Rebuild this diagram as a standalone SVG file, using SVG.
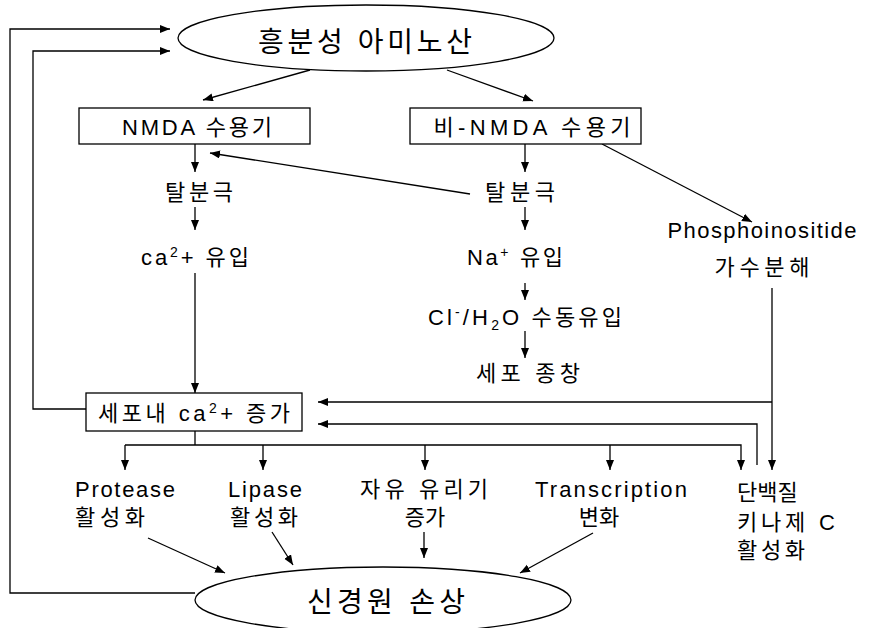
<svg xmlns="http://www.w3.org/2000/svg" width="870" height="628" viewBox="0 0 870 628">
<defs>
<marker id="ah" markerUnits="userSpaceOnUse" markerWidth="11" markerHeight="9" refX="10" refY="4" orient="auto">
<path d="M0,0 L10,4 L0,8 Z" fill="#000"/>
</marker>
<style>
text{font-family:"Liberation Sans","Noto Sans CJK KR",sans-serif;font-size:22px;fill:#000}
.c{text-anchor:middle}
.big{font-size:28px}
.bx{font-size:22px}
.node{fill:#fff;stroke:#000;stroke-width:1.3}
.conn path,.conn line,.conn polyline{fill:none;stroke:#000;stroke-width:1.3}
.arr{marker-end:url(#ah)}
</style>
</defs>
<rect width="870" height="628" fill="#fff"/>

<g class="conn">
<polyline class="arr" points="195,593 10,593 10,29 170,29"/>
<polyline class="arr" points="86,409 33,409 33,51 170,51"/>
<line class="arr" x1="310" y1="70" x2="203" y2="100"/>
<line class="arr" x1="447" y1="70" x2="533" y2="101"/>
<line class="arr" x1="195" y1="144" x2="195" y2="172"/>
<line class="arr" x1="470" y1="194" x2="210" y2="153"/>
<line class="arr" x1="525" y1="143" x2="525" y2="172"/>
<line class="arr" x1="602" y1="144" x2="752" y2="222"/>
<line class="arr" x1="195" y1="207" x2="195" y2="230"/>
<line class="arr" x1="195" y1="273" x2="195" y2="393"/>
<line class="arr" x1="525" y1="207" x2="525" y2="230"/>
<line class="arr" x1="525" y1="283" x2="525" y2="300"/>
<line class="arr" x1="525" y1="331" x2="525" y2="358"/>
<line class="arr" x1="772" y1="288" x2="772" y2="470"/>
<line class="arr" x1="772" y1="402" x2="318" y2="402"/>
<polyline class="arr" points="757,465 757,424 318,424"/>
<line x1="195" y1="431" x2="195" y2="445"/>
<polyline class="arr" points="125,445 741,445 741,470"/>
<line class="arr" x1="125" y1="445" x2="125" y2="470"/>
<line class="arr" x1="263" y1="445" x2="263" y2="470"/>
<line class="arr" x1="425" y1="445" x2="425" y2="470"/>
<line class="arr" x1="610" y1="445" x2="610" y2="470"/>
<line class="arr" x1="148" y1="538" x2="225" y2="573"/>
<line class="arr" x1="272" y1="532" x2="293" y2="565"/>
<line class="arr" x1="424" y1="532" x2="424" y2="558"/>
<line class="arr" x1="593" y1="533" x2="520" y2="573"/>
</g>

<g id="n_excit">
<ellipse class="node" cx="366" cy="38" rx="188" ry="33"/>
<text class="c big" x="365" y="52" textLength="214" lengthAdjust="spacing">흥분성 아미노산</text>
</g>
<g id="n_nmda">
<rect class="node" x="79" y="108" width="231" height="36"/>
<text class="c bx" x="197" y="135" textLength="150" lengthAdjust="spacing">NMDA 수용기</text>
</g>
<g id="n_nonnmda">
<rect class="node" x="410" y="108" width="231" height="36"/>
<text class="c bx" x="532" y="135" textLength="197" lengthAdjust="spacing">비-NMDA 수용기</text>
</g>
<g id="n_depol1">
<text class="c" x="199" y="200" textLength="68" lengthAdjust="spacing">탈분극</text>
</g>
<g id="n_depol2">
<text class="c" x="520" y="200" textLength="70" lengthAdjust="spacing">탈분극</text>
</g>
<g id="n_ca_influx">
<text x="141" y="265" textLength="108" lengthAdjust="spacing">ca<tspan font-size="14" dy="-8">2</tspan><tspan dy="8">+ 유입</tspan></text>
</g>
<g id="n_na_influx">
<text x="467" y="265" textLength="96" lengthAdjust="spacing">Na<tspan font-size="14" dy="-8">+</tspan><tspan dy="8"> 유입</tspan></text>
</g>
<g id="n_cl">
<text x="428" y="325" textLength="194" lengthAdjust="spacing">Cl<tspan font-size="14" dy="-8">-</tspan><tspan dy="8">/H</tspan><tspan font-size="14" dy="5">2</tspan><tspan dy="-5">O 수동유입</tspan></text>
</g>
<g id="n_swell">
<text class="c" x="528" y="381" textLength="104" lengthAdjust="spacing">세포 종창</text>
</g>
<g id="n_pi">
<text class="c" x="762" y="238" textLength="189" lengthAdjust="spacing">Phosphoinositide</text>
<text class="c" x="762" y="275" textLength="95" lengthAdjust="spacing">가수분해</text>
</g>
<g id="n_ca_rise">
<rect class="node" x="86" y="393" width="216" height="38"/>
<text x="98" y="421" class="bx" textLength="192" lengthAdjust="spacing">세포내 ca<tspan font-size="14" dy="-8">2</tspan><tspan dy="8">+ 증가</tspan></text>
</g>
<g id="n_protease">
<text x="75" y="497" textLength="100" lengthAdjust="spacing">Protease</text>
<text x="75" y="525" textLength="70" lengthAdjust="spacing">활성화</text>
</g>
<g id="n_lipase">
<text x="228" y="497" textLength="74" lengthAdjust="spacing">Lipase</text>
<text x="230" y="525" textLength="68" lengthAdjust="spacing">활성화</text>
</g>
<g id="n_radical">
<text class="c" x="424" y="497" textLength="128" lengthAdjust="spacing">자유 유리기</text>
<text class="c" x="425" y="525">증가</text>
</g>
<g id="n_transcription">
<text class="c" x="611" y="497" textLength="152" lengthAdjust="spacing">Transcription</text>
<text class="c" x="599" y="525">변화</text>
</g>
<g id="n_pkc">
<text x="737" y="500">단백질</text>
<text x="737" y="530" textLength="98" lengthAdjust="spacing">키나제 C</text>
<text x="737" y="558" textLength="68" lengthAdjust="spacing">활성화</text>
</g>
<g id="n_damage">
<ellipse class="node" cx="383" cy="600" rx="188" ry="33"/>
<text class="c big" x="386" y="612" textLength="158" lengthAdjust="spacing">신경원 손상</text>
</g>
</svg>
